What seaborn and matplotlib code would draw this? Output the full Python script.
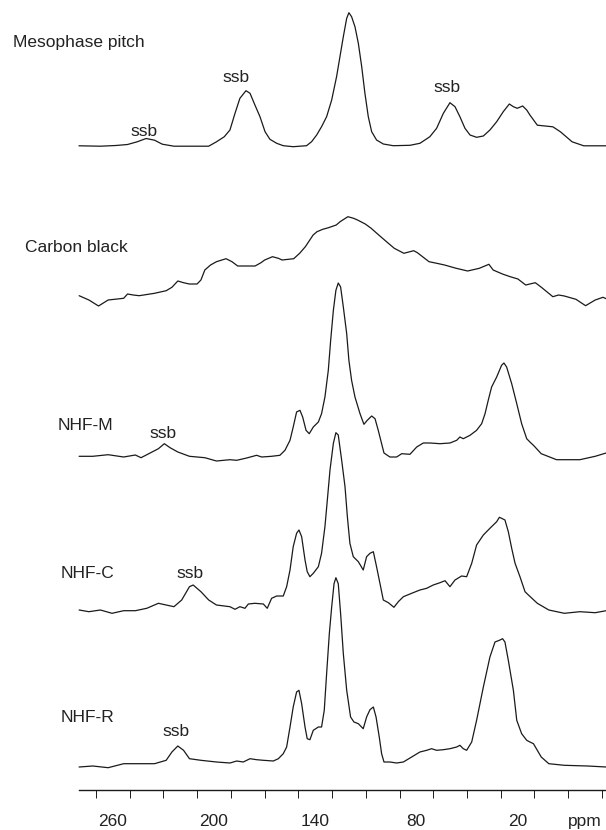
import numpy as np
import pandas as pd
import matplotlib
matplotlib.use("Agg")
import matplotlib.pyplot as plt
import seaborn as sns

# 13C CP/MAS NMR spectra: chemical shift (ppm) and intensity above each trace's baseline
meso_ppm = [280, 267.3, 258.1, 251.2, 245.5, 240.2, 235.2, 230.6, 223.7, 203.1, 198.5, 193.9,
            190.5, 187.5, 184.6, 181.0, 178.6, 175.7, 172.7, 169.7, 166.8, 162.8, 158.9, 153.0,
            145.1, 142.1, 139.1, 136.2, 133.2, 130.2, 127.3, 125.3, 123.3, 121.3, 120.0, 118.4,
            116.4, 114.4, 112.4, 110.5, 108.5, 106.5, 103.6, 99.6, 93.7, 83.8, 77.9, 72.0, 68.0,
            64.0, 60.1, 57.1, 54.2, 51.2, 48.2, 44.3, 40.3, 36.4, 32.4, 28.5, 24.9, 22.5, 20.2,
            17.0, 14.6, 12.7, 8.3, -0.9, -5.4, -12.3, -19.2, -32.5]
meso_int = [0.2, -0.2, 0.5, 1.5, 4.2, 7.5, 5.8, 1.8, -0.2, -0.2, 4.2, 9.2,
            16, 32.7, 47.7, 55.3, 52.7, 41, 29.3, 14.3, 6.7, 2.7, 0.3, -0.7,
            0.3, 4.3, 11, 19.3, 29.3, 46, 69.3, 89.3, 109.3, 127.7, 133.3, 129.3,
            119.3, 102.7, 79.3, 52.7, 29.3, 14.3, 6, 2, 0.3, 0.7, 2.7, 9.3, 17.7,
            32.7, 43.3, 39.3, 29.3, 17.7, 11, 8.7, 10, 16, 24.3, 34.3, 42, 39.3, 37.7,
            40, 36, 31, 20.8, 19.2, 14.2, 4.2, 0.2, 0.2]

cb_ppm = [279.9, 274.1, 268.4, 262.7, 253.5, 251.2, 247.8, 244.3, 235.2, 228.3, 224.9, 221.4,
          218.0, 214.6, 210.0, 207.7, 205.4, 202.0, 198.5, 192.8, 189.3, 185.9, 180.2, 175.6,
          172.1, 169.9, 165.3, 161.8, 159.6, 152.7, 149.2, 145.8, 141.2, 138.9, 135.5, 132.1,
          127.5, 125.2, 120.6, 117.2, 114.9, 110.3, 106.8, 102.3, 97.7, 93.1, 87.4, 81.6, 79.4,
          72.5, 67.9, 63.3, 56.4, 49.6, 42.7, 37.0, 34.5, 29.0, 24.4, 19.8, 15.2, 9.5, 5.9,
          -0.9, -4.3, -7.7, -14.6, -20.3, -26.0, -30.6, -32.5]
cb_int = [10.3, 6, 0, 6, 7.7, 12, 11, 10.3, 12.7, 15.3, 18.7, 25,
          23.3, 22, 22, 26, 36, 41, 44.3, 47.3, 44.3, 40, 40, 40,
          43.3, 46, 49.3, 47.7, 46, 47.3, 52.7, 59.3, 71, 74.3, 76.7, 78.3,
          81, 84.3, 89.3, 87.7, 86, 82, 77.7, 71, 64.3, 57.7, 52.7, 55.3, 53.3,
          44.3, 42.7, 41, 37.7, 35, 37.7, 41.7, 36, 32, 29.3, 27, 21, 23.3, 18.7,
          9.3, 11, 10, 6.7, 0.3, 6, 8.7, 7.3]

nhfm_ppm = [279.9, 271.8, 262.7, 253.5, 246.6, 243.2, 238.6, 232.9, 229.4, 226.0, 221.4, 214.5,
            205.4, 198.5,
            190.5, 186.5, 180.6, 174.7, 171.7, 165.8, 160.9, 157.9, 154.9, 153.0, 151.0, 149.0,
            147.4, 145.4, 143.5, 141.1, 138.1, 136.2, 134.2, 132.2, 130.8, 129.2, 127.7, 126.3,
            124.9, 123.3, 121.3, 120.0, 118.4, 116.4, 113.4, 111.1, 109.1, 106.5, 104.5, 102.6,
            100.6, 99.2, 95.7, 91.7, 88.7, 83.8, 79.8, 75.9, 71.9, 66.0, 60.1, 56.1, 54.2, 52.2,
            48.2, 44.3, 41.3, 39.3, 37.4, 35.4, 32.4, 29.5, 28.1, 26.5, 23.5, 20.5, 17.6, 14.6,
            12.7, 10.6, 6.0, -3.1, -16.9, -26.0, -32.5]
nhfm_int = [0.7, 0.7, 2.3, 0, 2, -0.7, 3.3, 8.3, 13.3, 9.3, 5, 0.7, -0.7, -4,
            -2.7, -3.3, -1, 1.7, 0, 0.7, 1.7, 6.7, 16.7, 30, 45, 46.7,
            40, 26.7, 23.3, 30, 35, 43.3, 60, 86.7, 116.7, 146.7, 166.7, 174,
            170, 150, 123.3, 96.7, 76.7, 60, 43.3, 32.7, 36.7, 41, 38.3, 26.7,
            13.3, 4, 0, 0, 3.3, 2.7, 10, 14, 14, 13.3, 14, 16.7, 20, 18.3,
            21.7, 26.7, 33.3, 43.3, 56.7, 70, 80, 91.7, 94, 90, 73.3, 53.3, 33.3, 18.3,
            15, 11.7, 3.3, -2.7, -2.7, 0.7, 4]

nhfc_ppm = [279.9, 274.1, 267.3, 260.4, 253.5, 246.6, 239.8, 232.9, 228.3, 223.7, 219.1, 214.5,
            212.3, 207.7, 203.1, 198.5,
            190.5, 187.5, 184.6, 181.6, 179.6, 175.7, 170.7, 168.4, 165.8, 162.8, 158.9, 156.9,
            154.9, 153.0, 151.0, 149.6, 148.0, 146.0, 144.7, 143.1, 141.1, 138.1, 136.2, 134.2,
            132.6, 131.2, 129.2, 127.7, 126.3, 124.3, 122.3, 120.9, 119.4, 117.4, 114.4, 111.5,
            109.5, 107.5, 105.5, 103.6, 101.6, 99.6, 96.6, 93.3, 90.7, 87.7, 82.8, 77.9, 73.9,
            70.0, 66.0, 63.0, 60.1, 57.1, 53.2, 50.2, 47.2, 44.3, 40.3, 36.4, 32.4, 30.8, 29.5,
            27.5, 25.5, 23.5, 21.5, 18.6, 15.6, 13.6,
            8.3, 1.5, -7.7, -16.9, -26.0, -32.5]
nhfc_int = [0, -1.7, 0, -3.3, -0.7, -0.7, 1.7, 6.7, 5, 3.3, 10, 23.3, 25, 18.3, 10, 5,
            3.3, 0.7, 3.3, 1.7, 6, 6.7, 6, 1.7, 11.7, 14, 14, 23.3,
            40, 63.3, 76.7, 80, 73.3, 50, 38.3, 33.3, 36.7, 43.3, 56.7, 83.3,
            113.3, 140, 166.7, 177.3, 175, 150, 123.3, 93.3, 66.7, 53.3, 48.3, 40,
            53.3, 56.7, 58.3, 43.3, 26.7, 10, 7.3, 2.7, 8.3, 13.3, 16.7, 20, 21.7,
            25, 27.3, 29.3, 23.3, 30, 34, 33.3, 46.7, 65, 75, 81.7, 88.3, 92.7, 91.7,
            90, 78.3, 61.7, 46.7, 33.3, 18.3, 15,
            6.7, 0, -3.3, -1.7, -2.7, -0.7]

nhfr_ppm = [279.9, 271.8, 262.7, 253.5, 244.3, 235.2, 228.3, 224.9, 221.4, 218.0, 214.5, 207.7,
            198.5,
            190.5, 186.5, 182.6, 178.6, 174.7, 170.7, 164.8, 161.8, 158.9, 156.9, 154.9, 153.0,
            151.0, 149.6, 148.0, 146.0, 144.7, 143.1, 141.1, 138.1, 136.2, 134.6, 133.2, 131.6,
            130.2, 128.8, 127.7, 126.3, 124.9, 123.3, 121.3, 119.0, 117.0, 114.4, 111.5, 109.5,
            107.5, 105.5, 103.9, 102.0, 100.6, 99.2, 95.7, 91.7, 87.7, 82.8, 77.9, 73.9, 71.0,
            68.0, 64.0, 60.1, 56.1, 54.2, 52.2, 50.2, 47.2, 44.3, 40.3, 36.4, 33.4, 30.8, 28.9,
            27.5, 25.5, 22.5, 20.5, 17.6, 14.6, 12.7,
            10.6, 6.0, 1.5, -7.7, -21.5, -32.5]
nhfr_int = [0, 1, -0.7, 3.3, 3.3, 3.3, 6.7, 15, 21, 16.7, 8.3, 6.7, 5,
            4, 6, 5, 8.3, 7.3, 6.7, 6, 8.3, 13.3, 20, 40, 60,
            75, 76.7, 63.3, 40, 28.3, 27.3, 36.7, 40, 40, 56.7, 93.3, 133.3,
            160, 183.3, 189.3, 183.3, 153.3, 113.3, 76.7, 50, 45, 43.3, 38.3, 50,
            57.3, 60, 50, 30, 13.3, 5, 5, 4, 5, 10, 15, 16.7, 18.3,
            16.7, 17.3, 18.3, 20, 21.7, 18.3, 16.7, 25, 46.7, 80, 110, 125, 126.7, 128.3,
            125, 106.7, 76.7, 46.7, 33.3, 26.7, 25,
            23.3, 10, 3.3, 1.7, 1, 0]

samples = ["Mesophase pitch", "Carbon black", "NHF-M", "NHF-C", "NHF-R"]
ppm_sets = [meso_ppm, cb_ppm, nhfm_ppm, nhfc_ppm, nhfr_ppm]
int_sets = [meso_int, cb_int, nhfm_int, nhfc_int, nhfr_int]
offsets = [644, 484, 333, 180, 23]

# sample-name labels (left edge ppm, vertical position)
name_x = [318.8, 311.9, 292.5, 290.6, 290.6]
name_y = [747, 542, 365, 217, 73]

# spinning sideband markers
ssb_x = [241.6, 186.6, 61.9, 230.1, 214.1, 222.6]
ssb_y = [659, 713, 703, 357, 216, 59]

# x-axis ticks
major_ticks = list(range(280, -21, -20))
tick_labels = {260: "260", 200: "200", 140: "140", 80: "80", 20: "20", -20: "ppm"}

frames = []
for name, p, v, off in zip(samples, ppm_sets, int_sets, offsets):
    frames.append(pd.DataFrame({"ppm": p, "signal": np.asarray(v) + off, "sample": name}))
df = pd.concat(frames, ignore_index=True)

sns.set_style("white")
plt.rcParams["font.family"] = ["Liberation Sans", "DejaVu Sans"]

fig = plt.figure(figsize=(6.06, 8.30), dpi=100)
ax = fig.add_axes([0, 40 / 830, 1, 790 / 830])

for name in samples:
    sns.lineplot(data=df[df["sample"] == name], x="ppm", y="signal", color="#1a1a1a",
                 linewidth=0.9, sort=False, estimator=None, ax=ax)

ax.set_xlim(326.8, -32.4)
ax.set_ylim(0, 790)
ax.set_xlabel("")
ax.set_ylabel("")
ax.set_yticks([])
for s in ["left", "right", "top"]:
    ax.spines[s].set_visible(False)
ax.spines["bottom"].set_bounds(280, -32.4)
ax.spines["bottom"].set_linewidth(1.0)
ax.spines["bottom"].set_color("#1a1a1a")

ax.set_xticks(major_ticks)
ax.set_xticklabels([tick_labels.get(t, "") for t in major_ticks])
ax.set_xticks(list(np.arange(280, -33, -2)), minor=True)
ax.tick_params(axis="x", which="major", direction="out", length=8.5, width=0.9,
               color="#1a1a1a", pad=9, labelsize=12.5, labelcolor="#222222")
ax.tick_params(axis="x", which="minor", direction="out", length=3.6, width=0.6,
               color="#1a1a1a")

# mid-length ticks at the odd tens
sec = ax.secondary_xaxis("bottom", functions=(lambda x: x, lambda x: x))
sec.spines["bottom"].set_visible(False)
sec.set_xticks(list(range(270, -31, -20)))
sec.tick_params(axis="x", which="major", direction="out", length=5.6, width=0.7,
                color="#1a1a1a", labelbottom=False)
sec.set_xticks([], minor=True)

for s, x, y in zip(samples, name_x, name_y):
    ax.text(x, y, s, fontsize=12.5, color="#222222", ha="left", va="center")
for x, y in zip(ssb_x, ssb_y):
    ax.text(x, y, "ssb", fontsize=12.5, color="#222222", ha="center", va="center")

fig.savefig("out.png", dpi=100)
